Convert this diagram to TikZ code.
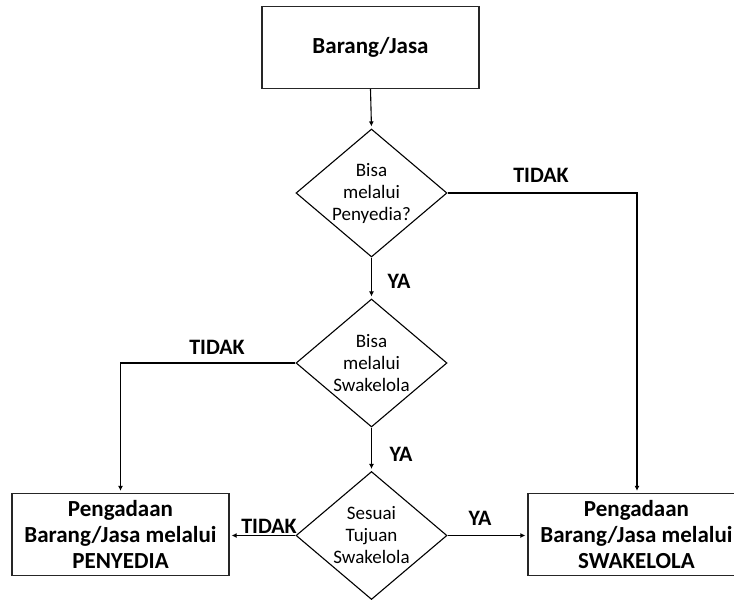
\documentclass[tikz,border=0pt]{standalone}
\usepackage{fontspec}
\setmainfont{Carlito}
\usetikzlibrary{shapes.geometric,arrows.meta}
\begin{document}
\begin{tikzpicture}[x=1pt,y=-1pt,
  box/.style={draw=black!85,line width=1.3pt,minimum width=217pt,minimum height=82pt,inner sep=0pt,align=center,font=\fontsize{23}{26}\selectfont\bfseries},
  dec/.style={draw=black,line width=1.1pt,shape=diamond,aspect=1.18,inner sep=0pt,minimum width=151pt,minimum height=128pt,align=center,font=\fontsize{19}{22}\selectfont},
  conn/.style={line width=1.1pt,-{Latex[length=5pt,width=5pt]},shorten >=2pt},
  lbl/.style={font=\fontsize{22}{24}\selectfont\bfseries,inner sep=0pt}]
\useasboundingbox (0,0) rectangle (734,600);
\clip (0,0) rectangle (734,600);
\node[box] (top) at (370.5,47.5) {Barang/Jasa};
\node[dec] (d1) at (371.5,193) {Bisa\\melalui\\Penyedia?};
\node[dec] (d2) at (371.5,363) {Bisa\\melalui\\Swakelola};
\node[dec] (d3) at (371.5,535.5) {Sesuai\\Tujuan\\Swakelola};
\node[box] (pl) at (120.5,534.5) {Pengadaan\\Barang/Jasa melalui\\PENYEDIA};
\node[box] (pr) at (636.5,534.5) {Pengadaan\\Barang/Jasa melalui\\SWAKELOLA};
\coordinate (c1) at (637,193);
\coordinate (c2) at (120.5,363);
\draw[conn] (top.south) -- (d1.north);
\draw[conn] (d1.south) -- (d2.north);
\draw[conn] (d2.south) -- (d3.north);
\draw[conn] (d1.east) -- (c1) -- (pr.north -| c1);
\draw[conn] (d2.west) -- (c2) -- (pl.north);
\draw[conn] (d3.west) -- (d3.west -| pl.east);
\draw[conn] (d3.east) -- (d3.east -| pr.west);
\node[lbl] (t1) at (541,175) {TIDAK};
\node[lbl] (y1) at (399,281) {YA};
\node[lbl] (t2) at (217,347) {TIDAK};
\node[lbl] (y2) at (401,454) {YA};
\node[lbl] (t3) at (269,526) {TIDAK};
\node[lbl] (y3) at (480,518.5) {YA};
\end{tikzpicture}
\end{document}
